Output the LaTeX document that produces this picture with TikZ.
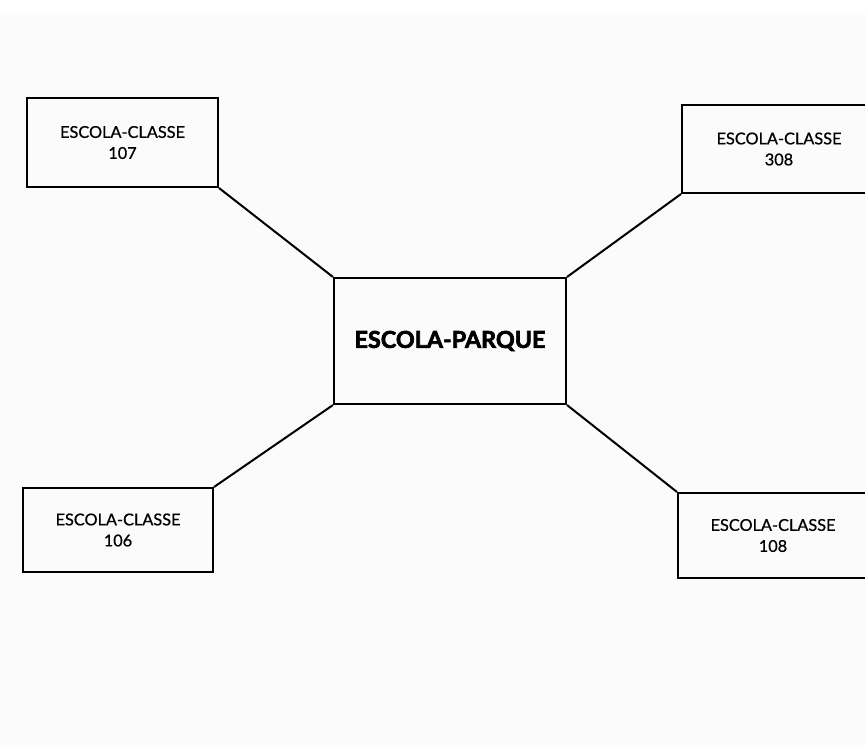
\documentclass[tikz,border=0pt]{standalone}
\usepackage{fontspec}
\setmainfont{Lato}
\newfontfamily\medfont{Lato}[UprightFeatures={FakeBold=0.8}]
\newfontfamily\heavyfont{Lato}[BoldFeatures={FakeBold=2.8}]
\begin{document}
\begin{tikzpicture}[x=1pt,y=-1pt,
  small/.style={draw=black,line width=2pt,rectangle,inner sep=0pt,
    font=\medfont\fontsize{16.3}{21}\selectfont,align=center,text=black},
  big/.style={draw=black,line width=2.1pt,rectangle,inner sep=0pt,
    font=\heavyfont\fontsize{23.3}{28}\bfseries\selectfont,text=black},
  link/.style={draw=black,line width=2pt}]
\useasboundingbox[fill=white] (0,0) rectangle (865,745);
\fill[black!1.5] (0,13) rectangle (865,745);
\node[small,minimum width=191pt,minimum height=89pt] (n107) at (122.5,142.5) {ESCOLA-CLASSE\\107};
\node[small,minimum width=194pt,minimum height=88pt] (n308) at (779,149) {ESCOLA-CLASSE\\308};
\node[small,minimum width=190pt,minimum height=84pt] (n106) at (118,530) {ESCOLA-CLASSE\\106};
\node[small,minimum width=190pt,minimum height=85pt] (n108) at (773,535.5) {ESCOLA-CLASSE\\108};
\node[big,minimum width=232pt,minimum height=126pt] (c) at (450,341) {ESCOLA-PARQUE};
\draw[link] (n107.south east) -- (c.north west);
\draw[link] (c.north east) -- (n308.south west);
\draw[link] (c.south west) -- (n106.north east);
\draw[link] (c.south east) -- (n108.north west);
\end{tikzpicture}
\end{document}
